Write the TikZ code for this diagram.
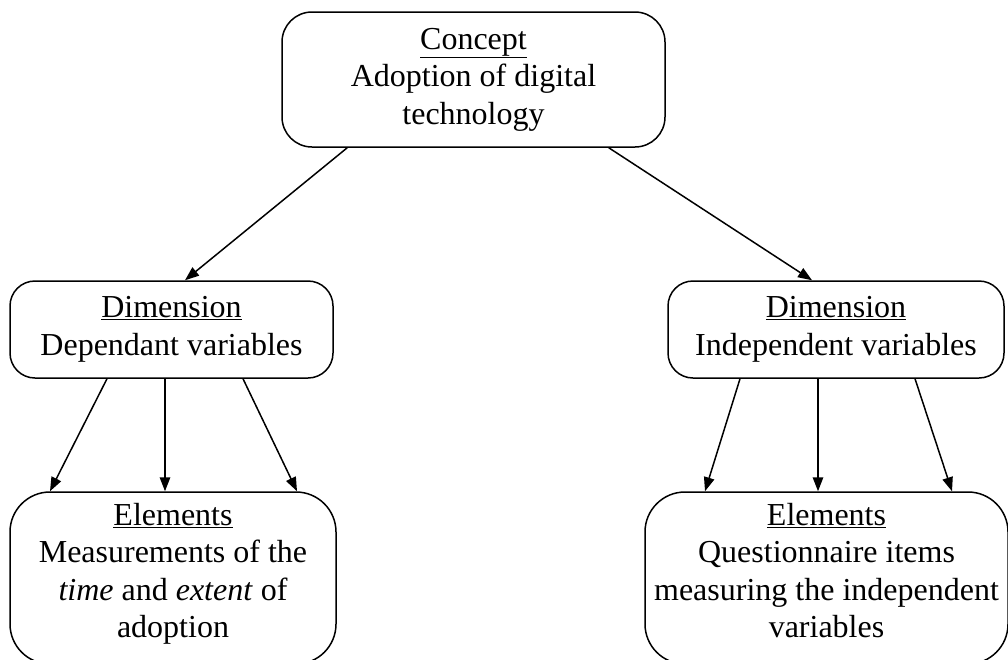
\documentclass[tikz,border=0pt]{standalone}
\usepackage{fontspec}
\setmainfont{Liberation Serif}
\usetikzlibrary{arrows.meta,positioning}

\begin{document}
\begin{tikzpicture}[x=1pt, y=-1pt,
    box/.style = {draw, line width=1.5pt, align=center, inner sep=0pt,
                  font=\fontsize{32}{37.5}\selectfont},
    conceptbox/.style = {box, rounded corners=30pt, minimum width=383pt, minimum height=135pt},
    dimbox/.style = {box, rounded corners=25pt, minimum height=97pt},
    elembox/.style = {box, rounded corners=40pt, minimum height=172pt, text depth=15pt},
    >={Triangle[length=14pt,width=10.5pt]}, line width=1.5pt]
    \useasboundingbox (0,0) rectangle (1008,659);
    \clip (0,0) rectangle (1008,659);

    \node[conceptbox] (concept) at (473.5,79.5) {\underline{Concept}\\Adoption of digital\\technology};

    \node[dimbox, minimum width=323pt] (dep) at (171.5,329.5) {\underline{Dimension}\\Dependant variables};
    \draw [->] ([xshift=66pt]concept.south west) -- ([xshift=13.5pt]dep.north);

    \node[dimbox, minimum width=336pt] (indep) at (836,329.5) {\underline{Dimension}\\Independent variables};
    \draw [->] ([xshift=-57pt]concept.south east) -- ([xshift=-24pt]indep.north);

    \node[elembox, minimum width=326pt] (elemdep) at (173,578) {\underline{Elements}\\Measurements of the\\\textit{time} and \textit{extent} of\\adoption};
    \draw [->] ([xshift=-64.5pt]dep.south) -- ([xshift=-123pt]elemdep.north);
    \draw [->] ([xshift=-6.5pt]dep.south) -- ([xshift=-8pt]elemdep.north);
    \draw [->] ([xshift=71.5pt]dep.south) -- ([xshift=124pt]elemdep.north);

    \node[elembox, minimum width=363pt] (elemindep) at (826.5,578) {\underline{Elements}\\Questionnaire items\\measuring the independent\\variables};
    \draw [->] ([xshift=-96pt]indep.south) -- ([xshift=-121.5pt]elemindep.north);
    \draw [->] ([xshift=-18pt]indep.south) -- ([xshift=-8.5pt]elemindep.north);
    \draw [->] ([xshift=79pt]indep.south) -- ([xshift=125.5pt]elemindep.north);
\end{tikzpicture}
\end{document}
